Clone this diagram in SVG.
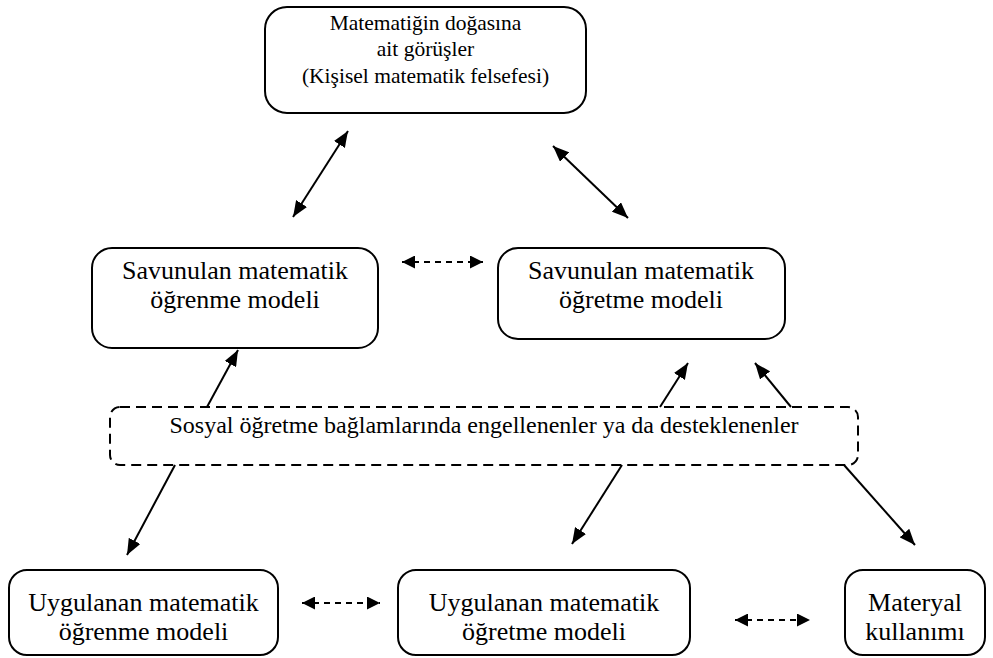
<svg xmlns="http://www.w3.org/2000/svg" width="993" height="658" viewBox="0 0 993 658">
<defs>
<marker id="ah" viewBox="0 0 16 13" refX="16" refY="6.5" markerWidth="16" markerHeight="13" markerUnits="userSpaceOnUse" orient="auto-start-reverse">
<path d="M0,0 L16,6.5 L0,13 z" fill="#000"/>
</marker>
<marker id="ahs" viewBox="0 0 13 13" refX="13" refY="6.5" markerWidth="13" markerHeight="13" markerUnits="userSpaceOnUse" orient="auto-start-reverse">
<path d="M0,0 L13,6.5 L0,13 z" fill="#000"/>
</marker>
</defs>
<style>
.box{fill:#fff;stroke:#000;stroke-width:2}
.dbox{fill:none;stroke:#000;stroke-width:2;stroke-dasharray:10,6}
.t{font-family:"Liberation Serif","Times New Roman",serif;font-size:26px;fill:#000;text-anchor:middle}
.tt{font-size:21.5px}
.ts{font-size:24px}
.c{stroke:#000;stroke-width:2;fill:none}
.d{stroke:#000;stroke-width:2;fill:none;stroke-dasharray:6,5}
</style>
<rect width="993" height="658" fill="#fff"/>
<g id="n-top">
<rect class="box" x="265" y="7" width="321" height="106" rx="22"/>
<text class="t tt" x="425.5" y="30">Matematiğin doğasına</text>
<text class="t tt" x="425.5" y="56">ait görüşler</text>
<text class="t tt" x="425.5" y="83">(Kişisel matematik felsefesi)</text>
</g>
<g id="n-sav-ogrenme">
<rect class="box" x="92" y="248" width="286" height="100" rx="20"/>
<text class="t" x="235" y="279">Savunulan matematik</text>
<text class="t" x="235" y="308">öğrenme modeli</text>
</g>
<g id="n-sav-ogretme">
<rect class="box" x="498" y="248" width="287" height="91" rx="20"/>
<text class="t" x="641" y="279">Savunulan matematik</text>
<text class="t" x="641" y="308">öğretme modeli</text>
</g>
<g id="n-sosyal">
<rect class="dbox" x="110" y="407" width="748" height="58" rx="10"/>
<text class="t ts" x="484" y="433">Sosyal öğretme bağlamlarında engellenenler ya da desteklenenler</text>
</g>
<g id="n-uyg-ogrenme">
<rect class="box" x="9" y="570" width="269" height="85" rx="18"/>
<text class="t" x="143.5" y="611">Uygulanan matematik</text>
<text class="t" x="143.5" y="640">öğrenme modeli</text>
</g>
<g id="n-uyg-ogretme">
<rect class="box" x="398" y="570" width="292" height="85" rx="18"/>
<text class="t" x="544" y="611">Uygulanan matematik</text>
<text class="t" x="544" y="640">öğretme modeli</text>
</g>
<g id="n-materyal">
<rect class="box" x="845" y="570" width="140" height="85" rx="18"/>
<text class="t" x="915" y="611">Materyal</text>
<text class="t" x="915" y="640">kullanımı</text>
</g>
<g id="connectors">
<line class="c" x1="348" y1="131" x2="293" y2="217" marker-start="url(#ah)" marker-end="url(#ah)"/>
<line class="c" x1="553" y1="146" x2="628" y2="218" marker-start="url(#ah)" marker-end="url(#ah)"/>
<line class="d" x1="402" y1="262" x2="483" y2="262" marker-start="url(#ahs)" marker-end="url(#ahs)"/>
<line class="c" x1="207" y1="407" x2="238" y2="350" marker-end="url(#ah)"/>
<line class="c" x1="175" y1="465" x2="127" y2="555" marker-end="url(#ah)"/>
<line class="c" x1="660" y1="407" x2="688" y2="363" marker-end="url(#ah)"/>
<line class="c" x1="791" y1="407" x2="755" y2="363" marker-end="url(#ah)"/>
<line class="c" x1="622" y1="465" x2="572" y2="544" marker-end="url(#ah)"/>
<line class="c" x1="844" y1="465" x2="915" y2="545" marker-end="url(#ah)"/>
<line class="d" x1="302" y1="603" x2="380" y2="603" marker-start="url(#ahs)" marker-end="url(#ahs)"/>
<line class="d" x1="735" y1="620" x2="810" y2="620" marker-start="url(#ahs)" marker-end="url(#ahs)"/>
</g>
</svg>
